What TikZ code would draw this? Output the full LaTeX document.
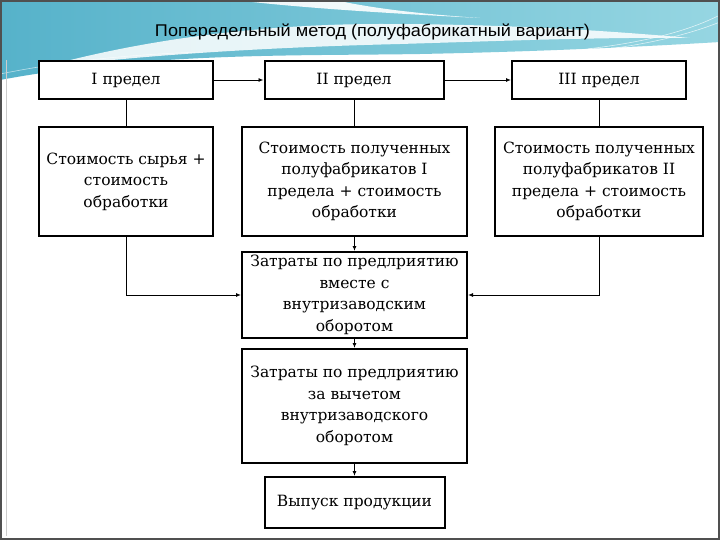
\documentclass[tikz,border=0pt]{standalone}
\usepackage{fontspec}
\usepackage{graphicx}
\setmainfont{DejaVu Serif}
\newfontfamily\titlefont{Liberation Sans}
\usetikzlibrary{arrows.meta}
\definecolor{tealA}{RGB}{86,178,202}
\definecolor{tealB}{RGB}{150,214,226}
\definecolor{tealC}{RGB}{104,192,208}
\definecolor{framegray}{RGB}{80,80,80}
\tikzset{
  box/.style={draw=black, line width=2pt, fill=white, align=center, inner sep=1pt,
    font=\fontsize{15.5}{21.5}\selectfont},
  conn/.style={draw=black, line width=0.9pt},
  arr/.style={conn, -{Latex[length=5pt,width=4pt]}},
}
\begin{document}
\begin{tikzpicture}[x=1pt,y=-1pt]
\useasboundingbox (0,0) rectangle (720,540);
\fill[white] (0,0) rectangle (720,540);
% decorative wave
\shade[left color=tealA, middle color=tealC, right color=tealB]
  (0,0) -- (720,0) -- (720,42) .. controls (620,48) and (520,52) .. (420,54)
  .. controls (300,56) and (150,52) .. (0,80) -- cycle;
\fill[white, opacity=0.85] (40,68) .. controls (140,40) and (260,24) .. (380,24)
  .. controls (500,24) and (600,30) .. (690,38) .. controls (600,37) and (500,41) .. (400,44)
  .. controls (280,47) and (150,54) .. (40,68) -- cycle;
\fill[white, opacity=0.9] (235,0) -- (335,0) .. controls (370,8) and (420,14) .. (480,18)
  .. controls (400,14) and (300,8) .. (235,0) -- cycle;
\draw[white, opacity=0.7, line width=0.6pt] (560,52) .. controls (630,45) and (680,35) .. (720,15);
\draw[white, opacity=0.7, line width=0.6pt] (600,50) .. controls (650,44) and (690,34) .. (720,22);
\draw[white, opacity=0.6, line width=0.6pt] (0,74) .. controls (60,62) and (120,55) .. (200,52);
% frame
\draw[framegray, line width=2pt] (1,1) rectangle (719,539);
\draw[gray!40, line width=0.5pt] (6,60) -- (6,536);
% title
\node (title) at (372.5,32) {\resizebox{435pt}{\height}{\titlefont\fontsize{17}{20}\selectfont Попередельный метод (полуфабрикатный вариант)}};
% boxes
\node[box, minimum width=174pt, minimum height=38pt] (p1) at (126,80) {I предел};
\node[box, minimum width=179pt, minimum height=38pt] (p2) at (354,80) {II предел};
\node[box, minimum width=174pt, minimum height=38pt] (p3) at (599,80) {III предел};
\node[box, minimum width=174pt, minimum height=109pt] (a) at (126,181.5) {Стоимость сырья +\\стоимость\\обработки};
\node[box, minimum width=225pt, minimum height=109pt] (b) at (354.5,181.5) {Стоимость полученных\\полуфабрикатов I\\предела + стоимость\\обработки};
\node[box, minimum width=208pt, minimum height=109pt] (c) at (599,181.5) {Стоимость полученных\\полуфабрикатов II\\предела + стоимость\\обработки};
\node[box, minimum width=225pt, minimum height=86pt] (d) at (354.5,295) {Затраты по предлриятию\\вместе с\\внутризаводским\\оборотом};
\node[box, minimum width=225pt, minimum height=114pt] (e) at (354.5,406) {Затраты по предлриятию\\за вычетом\\внутризаводского\\оборотом};
\node[box, minimum width=180pt, minimum height=51pt] (f) at (354.5,502.5) {Выпуск продукции};
% connectors
\draw[arr] (p1.east) -- (p2.west);
\draw[arr] (p2.east) -- (p3.west);
\draw[conn] (p1.south) -- (a.north);
\draw[conn] (p2.south) -- (p2.south |- b.north);
\draw[conn] (p3.south) -- (c.north);
\draw[arr] (b.south) -- (d.north);
\draw[arr] (d.south) -- (e.north);
\draw[arr] (e.south) -- (f.north);
\draw[arr] (a.south) |- (d.west);
\draw[arr] (c.south) |- (d.east);
\end{tikzpicture}
\end{document}
